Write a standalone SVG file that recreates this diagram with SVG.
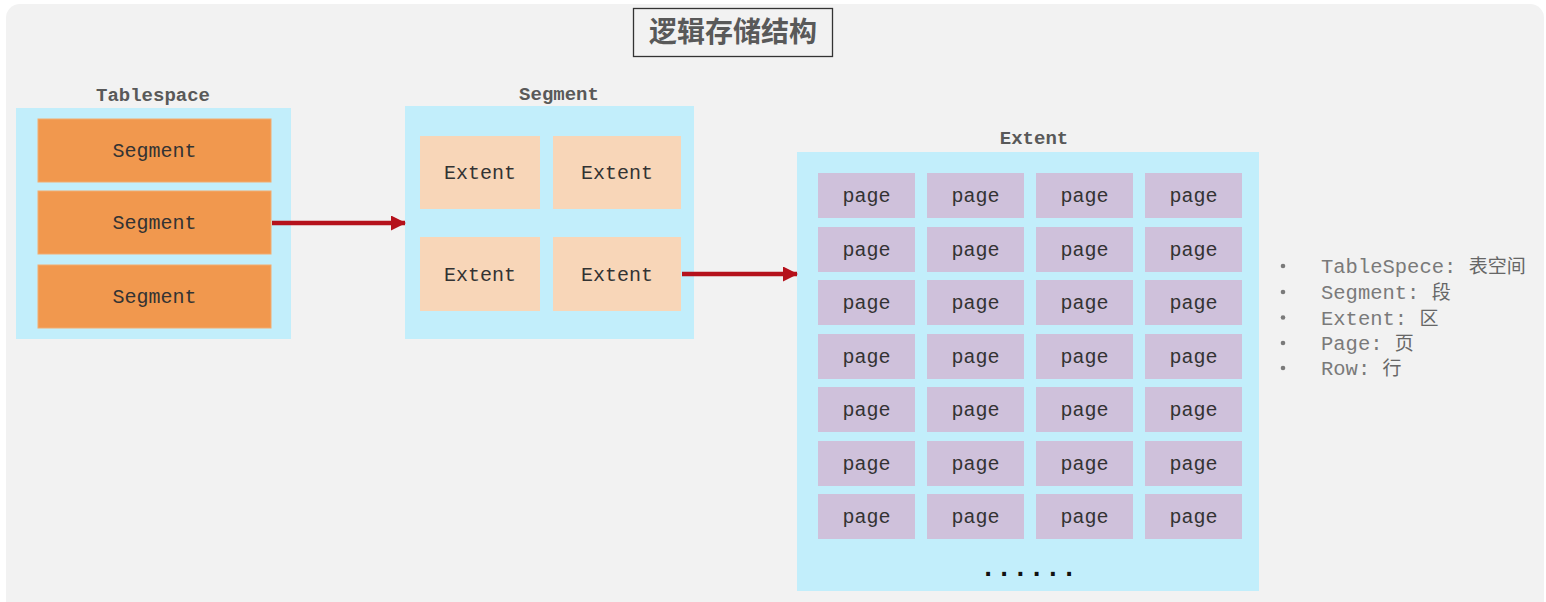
<svg xmlns="http://www.w3.org/2000/svg" width="1546" height="602" viewBox="0 0 1546 602">
<style>
.lbl{font-family:"Liberation Mono","Courier New",monospace;font-weight:bold;font-size:19px;fill:#595959;text-anchor:middle}
.box{fill:#c2eefb}
.seg{fill:#f1984e;stroke:#f3ab6f;stroke-width:1}
.ext{fill:#f8d6b8}
.pg{fill:#cfc1db}
.t{font-family:"Liberation Mono","Courier New",monospace;font-size:20px;fill:#333333;text-anchor:middle}
.leg{font-family:"Liberation Mono","Courier New","Noto Sans CJK SC",monospace;font-size:20.5px;fill:#7a7a7a}
.cjk{font-family:"Noto Sans CJK SC",sans-serif;font-size:19px;fill:#666666}
.arr{stroke:#b5111b;stroke-width:4.5;fill:none}
</style>
<defs>
<marker id="ah" markerUnits="userSpaceOnUse" markerWidth="15" markerHeight="16" refX="14" refY="7.5" orient="auto">
<path d="M0,0 L15,7.5 L0,15 Z" fill="#b5111b"/>
</marker>
</defs>
<rect x="0" y="0" width="1546" height="602" fill="#ffffff"/>
<rect x="6" y="4" width="1538" height="612" rx="14" fill="#f2f2f2"/>

<g id="title">
<rect x="633.5" y="8.5" width="199" height="48" fill="#f2f2f2" stroke="#333333" stroke-width="1.3"/>
<text x="733" y="42" font-family="Noto Sans CJK SC,sans-serif" font-weight="bold" font-size="28" fill="#595959" text-anchor="middle">逻辑存储结构</text>
</g>

<g id="tablespace">
<text class="lbl" x="153" y="101">Tablespace</text>
<rect class="box" x="16" y="108" width="275" height="231"/>
<g id="ts-seg1"><rect class="seg" x="38" y="119" width="233" height="63"/><text class="t" x="154.5" y="157">Segment</text></g>
<g id="ts-seg2"><rect class="seg" x="38" y="191" width="233" height="63"/><text class="t" x="154.5" y="229">Segment</text></g>
<g id="ts-seg3"><rect class="seg" x="38" y="265" width="233" height="63"/><text class="t" x="154.5" y="303">Segment</text></g>
</g>

<g id="segment">
<text class="lbl" x="559" y="100">Segment</text>
<rect class="box" x="405" y="106" width="289" height="233"/>
<g id="sg-ext1"><rect class="ext" x="420" y="136" width="120" height="73"/><text class="t" x="480" y="179">Extent</text></g>
<g id="sg-ext2"><rect class="ext" x="553" y="136" width="128" height="73"/><text class="t" x="617" y="179">Extent</text></g>
<g id="sg-ext3"><rect class="ext" x="420" y="237" width="120" height="74"/><text class="t" x="480" y="281">Extent</text></g>
<g id="sg-ext4"><rect class="ext" x="553" y="237" width="128" height="74"/><text class="t" x="617" y="281">Extent</text></g>
</g>

<g id="extent">
<text class="lbl" x="1034" y="144">Extent</text>
<rect class="box" x="797" y="152" width="462" height="439"/>
<g id="pages">
<g id="r1">
<rect class="pg" x="818" y="173" width="97" height="45"/><text class="t" x="866.5" y="202">page</text>
<rect class="pg" x="927" y="173" width="97" height="45"/><text class="t" x="975.5" y="202">page</text>
<rect class="pg" x="1036" y="173" width="97" height="45"/><text class="t" x="1084.5" y="202">page</text>
<rect class="pg" x="1145" y="173" width="97" height="45"/><text class="t" x="1193.5" y="202">page</text>
</g>
<g id="r2">
<rect class="pg" x="818" y="227" width="97" height="45"/><text class="t" x="866.5" y="256">page</text>
<rect class="pg" x="927" y="227" width="97" height="45"/><text class="t" x="975.5" y="256">page</text>
<rect class="pg" x="1036" y="227" width="97" height="45"/><text class="t" x="1084.5" y="256">page</text>
<rect class="pg" x="1145" y="227" width="97" height="45"/><text class="t" x="1193.5" y="256">page</text>
</g>
<g id="r3">
<rect class="pg" x="818" y="280" width="97" height="45"/><text class="t" x="866.5" y="309">page</text>
<rect class="pg" x="927" y="280" width="97" height="45"/><text class="t" x="975.5" y="309">page</text>
<rect class="pg" x="1036" y="280" width="97" height="45"/><text class="t" x="1084.5" y="309">page</text>
<rect class="pg" x="1145" y="280" width="97" height="45"/><text class="t" x="1193.5" y="309">page</text>
</g>
<g id="r4">
<rect class="pg" x="818" y="334" width="97" height="45"/><text class="t" x="866.5" y="363">page</text>
<rect class="pg" x="927" y="334" width="97" height="45"/><text class="t" x="975.5" y="363">page</text>
<rect class="pg" x="1036" y="334" width="97" height="45"/><text class="t" x="1084.5" y="363">page</text>
<rect class="pg" x="1145" y="334" width="97" height="45"/><text class="t" x="1193.5" y="363">page</text>
</g>
<g id="r5">
<rect class="pg" x="818" y="387" width="97" height="45"/><text class="t" x="866.5" y="416">page</text>
<rect class="pg" x="927" y="387" width="97" height="45"/><text class="t" x="975.5" y="416">page</text>
<rect class="pg" x="1036" y="387" width="97" height="45"/><text class="t" x="1084.5" y="416">page</text>
<rect class="pg" x="1145" y="387" width="97" height="45"/><text class="t" x="1193.5" y="416">page</text>
</g>
<g id="r6">
<rect class="pg" x="818" y="441" width="97" height="45"/><text class="t" x="866.5" y="470">page</text>
<rect class="pg" x="927" y="441" width="97" height="45"/><text class="t" x="975.5" y="470">page</text>
<rect class="pg" x="1036" y="441" width="97" height="45"/><text class="t" x="1084.5" y="470">page</text>
<rect class="pg" x="1145" y="441" width="97" height="45"/><text class="t" x="1193.5" y="470">page</text>
</g>
<g id="r7">
<rect class="pg" x="818" y="494" width="97" height="45"/><text class="t" x="866.5" y="523">page</text>
<rect class="pg" x="927" y="494" width="97" height="45"/><text class="t" x="975.5" y="523">page</text>
<rect class="pg" x="1036" y="494" width="97" height="45"/><text class="t" x="1084.5" y="523">page</text>
<rect class="pg" x="1145" y="494" width="97" height="45"/><text class="t" x="1193.5" y="523">page</text>
</g>
</g>
<text x="1028.5" y="576" font-family="Liberation Mono,monospace" font-weight="bold" font-size="27" fill="#111111" text-anchor="middle">......</text>
</g>

<g id="connectors">
<path class="arr" d="M272,223 H405" marker-end="url(#ah)"/>
<path class="arr" d="M682,274 H797" marker-end="url(#ah)"/>
</g>

<g id="legend">
<circle cx="1283" cy="266" r="2.3" fill="#7a7a7a"/>
<circle cx="1283" cy="292" r="2.3" fill="#7a7a7a"/>
<circle cx="1283" cy="317.5" r="2.3" fill="#7a7a7a"/>
<circle cx="1283" cy="343" r="2.3" fill="#7a7a7a"/>
<circle cx="1283" cy="368" r="2.3" fill="#7a7a7a"/>
<text class="leg" x="1321" y="273">TableSpece: <tspan class="cjk">表空间</tspan></text>
<text class="leg" x="1321" y="299">Segment: <tspan class="cjk">段</tspan></text>
<text class="leg" x="1321" y="324.5">Extent: <tspan class="cjk">区</tspan></text>
<text class="leg" x="1321" y="350">Page: <tspan class="cjk">页</tspan></text>
<text class="leg" x="1321" y="375">Row: <tspan class="cjk">行</tspan></text>
</g>
</svg>
